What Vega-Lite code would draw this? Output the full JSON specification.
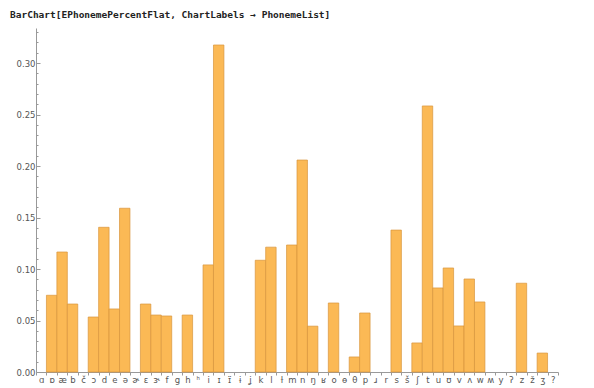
{
  "$schema": "https://vega.github.io/schema/vega-lite/v6.json",
  "width": 522,
  "height": 344,
  "autosize": {"type": "none"},
  "padding": {"left": 36, "top": 28, "right": 36, "bottom": 16},
  "background": "white",
  "title": {
    "text": "BarChart[EPhonemePercentFlat, ChartLabels → PhonemeList]",
    "anchor": "start",
    "frame": "group",
    "dx": -26,
    "offset": 9,
    "font": "DejaVu Sans Mono",
    "fontSize": 9.5,
    "fontWeight": "bold",
    "color": "#222222"
  },
  "data": {
    "values": [
      {"phoneme": "ɑ", "value": 0},
      {"phoneme": "ɒ", "value": 0.0745},
      {"phoneme": "æ", "value": 0.1165},
      {"phoneme": "b", "value": 0.066},
      {"phoneme": "č", "value": 0},
      {"phoneme": "ɔ", "value": 0.0534},
      {"phoneme": "d", "value": 0.1405},
      {"phoneme": "e", "value": 0.0612},
      {"phoneme": "ə", "value": 0.159},
      {"phoneme": "ɚ", "value": 0},
      {"phoneme": "ɛ", "value": 0.066},
      {"phoneme": "ɝ", "value": 0.0553},
      {"phoneme": "f", "value": 0.0544},
      {"phoneme": "g", "value": 0},
      {"phoneme": "h", "value": 0.0553},
      {"phoneme": "ʰ", "value": 0},
      {"phoneme": "i", "value": 0.104},
      {"phoneme": "ɪ", "value": 0.3175},
      {"phoneme": "ɪ̈", "value": 0},
      {"phoneme": "ɨ", "value": 0},
      {"phoneme": "ʝ", "value": 0},
      {"phoneme": "k", "value": 0.1085},
      {"phoneme": "l", "value": 0.1212},
      {"phoneme": "ɫ", "value": 0},
      {"phoneme": "m", "value": 0.1233},
      {"phoneme": "n", "value": 0.2058},
      {"phoneme": "ŋ", "value": 0.0445},
      {"phoneme": "ʁ", "value": 0},
      {"phoneme": "o", "value": 0.067},
      {"phoneme": "ɵ", "value": 0},
      {"phoneme": "θ", "value": 0.0146},
      {"phoneme": "p", "value": 0.0573},
      {"phoneme": "ɹ", "value": 0},
      {"phoneme": "r", "value": 0},
      {"phoneme": "s", "value": 0.1378},
      {"phoneme": "š", "value": 0},
      {"phoneme": "ʃ", "value": 0.0282},
      {"phoneme": "t", "value": 0.2583},
      {"phoneme": "u", "value": 0.0816},
      {"phoneme": "ʊ", "value": 0.101},
      {"phoneme": "v", "value": 0.0447},
      {"phoneme": "ʌ", "value": 0.0903},
      {"phoneme": "w", "value": 0.068},
      {"phoneme": "ʍ", "value": 0},
      {"phoneme": "y", "value": 0},
      {"phoneme": "ʔ", "value": 0},
      {"phoneme": "z", "value": 0.0862},
      {"phoneme": "ž", "value": 0},
      {"phoneme": "ʒ", "value": 0.0184},
      {"phoneme": "?", "value": 0}
    ]
  },
  "mark": {"type": "bar", "fill": "#fbb955", "stroke": "#d8953c", "strokeWidth": 0.7},
  "encoding": {
    "x": {
      "field": "phoneme",
      "type": "nominal",
      "sort": null,
      "scale": {"paddingInner": 0, "paddingOuter": 0},
      "axis": {
        "title": null,
        "labelAngle": 0,
        "labelFontSize": 8.5,
        "labelColor": "#555555",
        "labelPadding": 0,
        "tickBand": "extent",
        "tickSize": 3,
        "tickColor": "#999999",
        "domainColor": "#999999",
        "labelFont": "DejaVu Sans"
      }
    },
    "y": {
      "field": "value",
      "type": "quantitative",
      "scale": {"domain": [0, 0.334], "nice": false, "zero": true},
      "axis": {
        "title": null,
        "grid": false,
        "values": [0, 0.01, 0.02, 0.03, 0.04, 0.05, 0.06, 0.07, 0.08, 0.09, 0.1, 0.11, 0.12, 0.13, 0.14, 0.15, 0.16, 0.17, 0.18, 0.19, 0.2, 0.21, 0.22, 0.23, 0.24, 0.25, 0.26, 0.27, 0.28, 0.29, 0.3, 0.31, 0.32, 0.33],
        "labelExpr": "round(datum.value*100) % 5 == 0 ? format(datum.value, '.2f') : ''",
        "tickSize": {"condition": {"test": "round(datum.value*100) % 5 == 0", "value": -4}, "value": -2},
        "labelFontSize": 8.5,
        "labelColor": "#555555",
        "labelPadding": 5,
        "tickColor": "#999999",
        "domainColor": "#999999",
        "labelFont": "DejaVu Sans",
        "labelOverlap": false
      }
    },
    "strokeOpacity": {"condition": {"test": "datum.value > 0", "value": 1}, "value": 0}
  },
  "config": {"view": {"stroke": null}}
}
